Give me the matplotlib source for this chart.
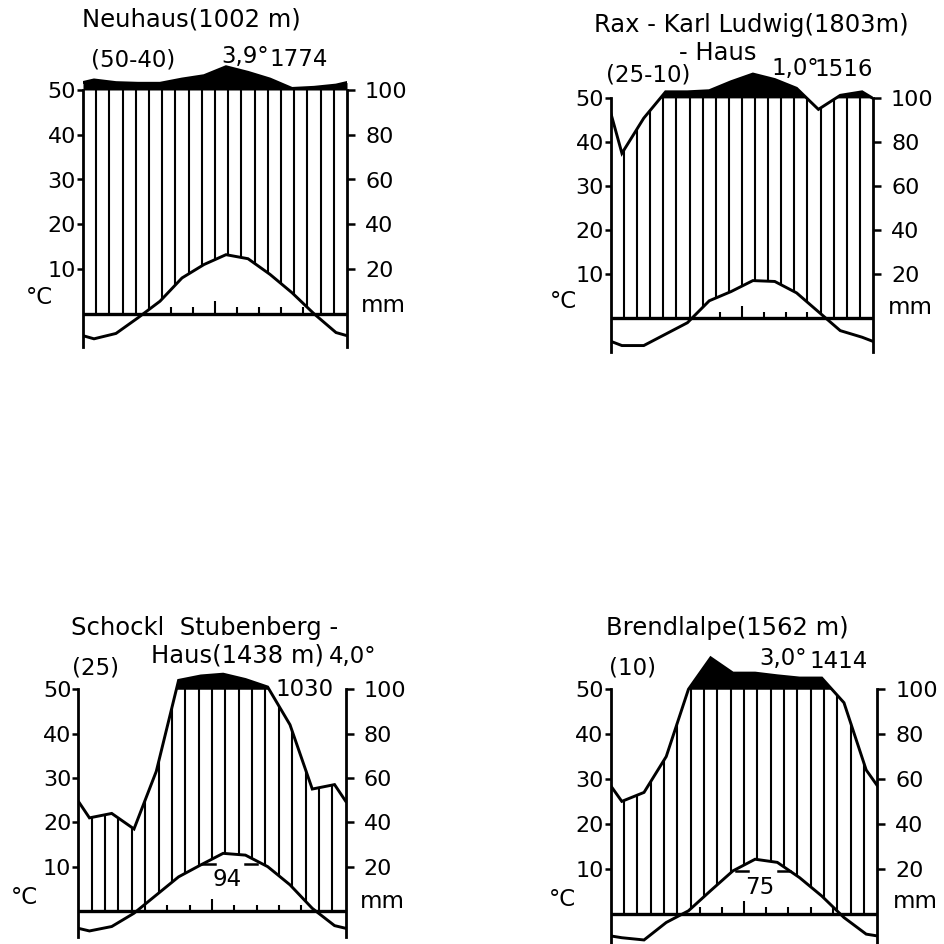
import numpy as np
import matplotlib.pyplot as plt

plt.rcParams["font.family"] = ["DejaVu Sans"]

W, H = 945, 944

# monthly means Jan..Dec (temperature in °C, precipitation in mm)
months = ["J", "F", "M", "A", "M", "J", "J", "A", "S", "O", "N", "D"]

neuhaus_temp = [-5.6, -4.4, -0.9, 2.8, 8.0, 11.0, 13.2, 12.3, 8.8, 4.7, 0.0, -4.2]
neuhaus_prec = [145, 133, 130, 130, 149, 164, 204, 179, 149, 107, 112, 122]

rax_temp = [-6.3, -6.3, -3.7, -1.1, 3.9, 6.0, 8.5, 8.3, 5.7, 1.4, -2.9, -4.4]
rax_prec = [75, 91, 130, 130, 135, 176, 211, 186, 146, 95, 114, 130]
rax_prec_ends = [93, 100]  # curve values at the left / right border

schoeckl_temp = [-4.5, -3.5, -0.5, 3.6, 7.7, 10.4, 13.0, 12.6, 10.0, 5.9, 0.6, -3.3]
schoeckl_prec = [42, 44, 37, 63, 140, 160, 168, 144, 110, 84, 55, 57]

brendl_temp = [-5.4, -5.9, -2.0, 0.6, 5.1, 9.5, 12.1, 11.4, 8.0, 3.9, -0.9, -4.6]
brendl_prec = [50, 54, 70, 100, 240, 172, 172, 160, 150, 150, 94, 64]

left_ticks = [10, 20, 30, 40, 50]
left_labels = ["10", "20", "30", "40", "50"]
right_labels = ["20", "40", "60", "80", "100"]


def scaled_prec(p):
    # Walter-Lieth: 10 °C = 20 mm, above 100 mm compressed to 1/10
    p = np.asarray(p, dtype=float)
    return np.where(p <= 100, p / 2, 50 + (p - 100) / 20)


def with_edges(v, ends=None):
    if ends is None:
        ends = [(v[0] + v[-1]) / 2] * 2
    return np.concatenate([[ends[0]], v, [ends[1]]])


def ftext(x, y, s, size=16.5, ha="center"):
    fig.text(x / W, 1 - y / H, s, ha=ha, va="center", fontsize=size)


def climate_panel(box, temp, prec, prec_ends=None):
    x0, x1, y0, px10, low = box
    ylo, yhi = -8, 58
    bot = y0 - ylo * px10 / 10
    top = y0 - yhi * px10 / 10
    ax = fig.add_axes([x0 / W, 1 - bot / H, (x1 - x0) / W, (bot - top) / H])
    ax.set_xlim(0, 12)
    ax.set_ylim(ylo, yhi)
    ax.patch.set_visible(False)

    xm = np.concatenate([[0], np.arange(12) + 0.5, [12]])
    t = with_edges(np.asarray(temp, dtype=float))
    ends = None if prec_ends is None else scaled_prec(prec_ends)
    p = with_edges(scaled_prec(prec), ends)

    xs = np.linspace(0, 12, 1201)
    ps = np.interp(xs, xm, p)
    ax.fill_between(xs, 50, ps, where=ps > 50, color="black", lw=0, interpolate=True)

    # humid period hatching
    hx = np.linspace(0, 12, 21)[1:-1]
    lo = np.maximum(np.interp(hx, xm, t), 0)
    hi = np.minimum(np.interp(hx, xm, p), 50)
    keep = hi > lo
    ax.vlines(hx[keep], lo[keep], hi[keep], color="black", lw=1.5)

    ax.plot(xm, t, color="black", lw=2.1, solid_joinstyle="miter")
    ax.plot(xm, p, color="black", lw=2.1, solid_joinstyle="miter")
    ax.plot([0, 12], [0, 0], color="black", lw=2.4)

    # month marks on the zero line
    mb = np.arange(1, 12)
    tb = np.interp(mb, xm, t)
    mh = np.where(mb == 6, 2.8, 1.4)
    ok = tb > mh
    ax.vlines(mb[ok], 0, mh[ok], color="black", lw=1.5)

    for side in ["top", "bottom", "right"]:
        ax.spines[side].set_visible(False)
    ax.spines["left"].set_bounds(low, 50)
    ax.spines["left"].set_linewidth(2)
    ax.set_xticks([])
    ax.set_yticks(left_ticks, left_labels)
    ax.tick_params(axis="y", length=4, width=1.8, pad=1, labelsize=16)

    ax2 = ax.twinx()
    ax2.set_ylim(ylo, yhi)
    for side in ["top", "bottom", "left"]:
        ax2.spines[side].set_visible(False)
    ax2.spines["right"].set_bounds(low, 50)
    ax2.spines["right"].set_linewidth(2)
    ax2.set_yticks(left_ticks, right_labels)
    ax2.tick_params(axis="y", length=6, width=1.8, pad=7, labelsize=16)
    return ax


def peak_label(ax, xc, yc, s):
    ax.text(xc, yc, s, ha="center", va="center", fontsize=16.5)
    ax.plot([xc - 1.1, xc - 0.55], [yc + 3.6, yc + 3.6], color="black", lw=1.8)
    ax.plot([xc + 0.8, xc + 1.35], [yc + 3.6, yc + 3.6], color="black", lw=1.8)


fig = plt.figure(figsize=(9.45, 9.44), dpi=100)

# Neuhaus
climate_panel((83, 347, 313.75, 44.75, -7.4), neuhaus_temp, neuhaus_prec)
ftext(191, 20, "Neuhaus(1002 m)", 17.5)
ftext(133, 60, "(50-40)")
ftext(245, 56, "3,9°")
ftext(299, 60, "1774")
ftext(39, 298, "°C")
ftext(383, 305, "mm")

# Rax - Karl Ludwig-Haus
climate_panel((611, 873, 317.9, 43.9, -7.7), rax_temp, rax_prec, rax_prec_ends)
ftext(751, 25, "Rax - Karl Ludwig(1803m)", 17.5)
ftext(718, 53, "- Haus", 17.5)
ftext(648, 75, "(25-10)")
ftext(795, 68, "1,0°")
ftext(844, 70, "1516")
ftext(563, 302, "°C")
ftext(910, 308, "mm")

# Schöckl Stubenberg-Haus
ax3 = climate_panel((78.3, 345.7, 911, 44.35, -5.8), schoeckl_temp, schoeckl_prec)
ftext(205, 628, "Schockl  Stubenberg -", 17.5)
ftext(237, 655, "Haus(1438 m)", 17.5)
ftext(353, 657, "4,0°")
ftext(96, 668, "(25)")
ftext(305, 689, "1030")
peak_label(ax3, 6.67, 7.0, "94")
ftext(24, 898, "°C")
ftext(382, 902, "mm")

# Brendlalpe
ax4 = climate_panel((610.7, 877.3, 913.5, 44.85, -7.0), brendl_temp, brendl_prec)
ftext(727, 628, "Brendlalpe(1562 m)", 17.5)
ftext(633, 668, "(10)")
ftext(783, 658, "3,0°")
ftext(839, 662, "1414")
peak_label(ax4, 6.72, 5.9, "75")
ftext(562, 900, "°C")
ftext(915, 902, "mm")

fig.savefig("out.png", dpi=100)
